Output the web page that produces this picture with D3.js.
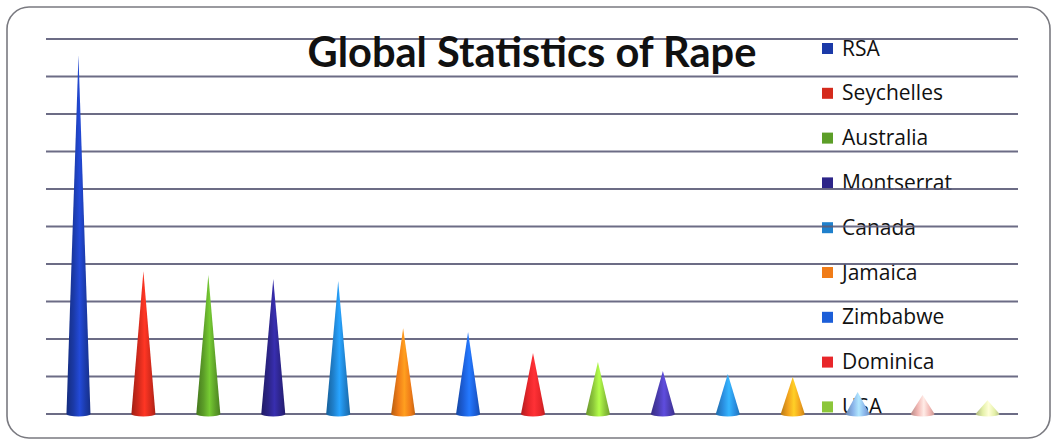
<!DOCTYPE html>
<html><head><meta charset="utf-8">
<script src="https://cdn.jsdelivr.net/npm/d3@7"></script>
<style>html,body{margin:0;padding:0;background:#fff;}svg{display:block;}</style>
</head><body>
<svg id="chart" width="1054" height="444"></svg>
<script>
const categories = ["RSA","Seychelles","Australia","Montserrat","Canada","Jamaica","Zimbabwe","Dominica","USA","Iceland","Papua New Guinea","New Zealand","United Kingdom","Spain","France"];
const values = [95.7, 38.1, 37.1, 36.0, 35.5, 22.9, 21.9, 16.3, 13.9, 11.5, 10.7, 9.9, 5.9, 5.1, 3.7];
const colors = ["#1b3aa8","#d42a1c","#5c9e28","#2c2488","#1f80cc","#f07c18","#1c5ed8","#e8262a","#8cc63a","#4a3cae","#2a8ee0","#f2a21e","#8ab4ea","#f2b8b4","#e4f0a8"];
const gridTicks = [0,10,20,30,40,50,60,70,80,90,100];
const title = "Global Statistics of Rape";

const svg = d3.select("#chart");
const W = 1054, H = 444;

svg.append("rect").attr("x",7).attr("y",7).attr("width",1043).attr("height",431)
  .attr("rx",22).attr("ry",22).attr("fill","#fff").attr("stroke","#7a7a80").attr("stroke-width",1.6);

const x = d3.scaleBand().domain(categories).range([46,1020]).padding(0);
const y = d3.scaleLinear().domain([0,100]).range([414,39]);

const defs = svg.append("defs");
categories.forEach((c,i)=>{
  const col = d3.color(colors[i]);
  const g = defs.append("linearGradient").attr("id","g"+i).attr("x1","0%").attr("x2","100%").attr("y1","0%").attr("y2","0%");
  g.append("stop").attr("offset","0%").attr("stop-color",col.darker(0.8));
  g.append("stop").attr("offset","30%").attr("stop-color",col);
  g.append("stop").attr("offset","55%").attr("stop-color",col.brighter(0.7));
  g.append("stop").attr("offset","80%").attr("stop-color",col);
  g.append("stop").attr("offset","100%").attr("stop-color",col.darker(0.6));
});

// Legend
const legendY0 = 48, legendStep = 44.8;
const legendItems = categories.map((c,i)=>({c,i,y:legendY0+i*legendStep})).filter(d=>d.y < H-20);
const lg = svg.append("g");
lg.selectAll("rect").data(legendItems).join("rect")
  .attr("x",822).attr("y",d=>d.y-5).attr("width",11).attr("height",11).attr("fill",d=>colors[d.i]);
lg.selectAll("text").data(legendItems).join("text")
  .attr("x",842).attr("y",d=>d.y+7.5).attr("font-family","'Open Sans', Lato, sans-serif")
  .attr("font-size",21).attr("fill","#111").text(d=>d.c);

// Gridlines
svg.append("g").selectAll("line").data(gridTicks).join("line")
  .attr("x1",46).attr("x2",1018).attr("y1",d=>y(d)).attr("y2",d=>y(d))
  .attr("stroke","#5c5c78").attr("stroke-width",1.8).attr("stroke-opacity",0.9);

// Cones
const bw = x.bandwidth()*0.37;
svg.append("g").selectAll("path").data(categories).join("path")
  .attr("d",(c,i)=>{
    const cx = x(c)+x.bandwidth()/2, b = y(0), t = y(values[i]);
    return `M${cx-bw/2},${b} L${cx},${t} L${cx+bw/2},${b} A${bw/2},2.5 0 0 1 ${cx-bw/2},${b} Z`;
  })
  .attr("fill",(c,i)=>`url(#g${i})`);

// Title
const tt = svg.append("text").attr("x",532).attr("y",67).attr("text-anchor","middle")
  .attr("font-family","Lato, 'Open Sans', sans-serif").attr("font-weight","bold")
  .attr("font-size",36).attr("fill","#111").text(title);
const len = tt.node().getComputedTextLength();
tt.attr("font-size", 36*449/len);
</script>
</body></html>
